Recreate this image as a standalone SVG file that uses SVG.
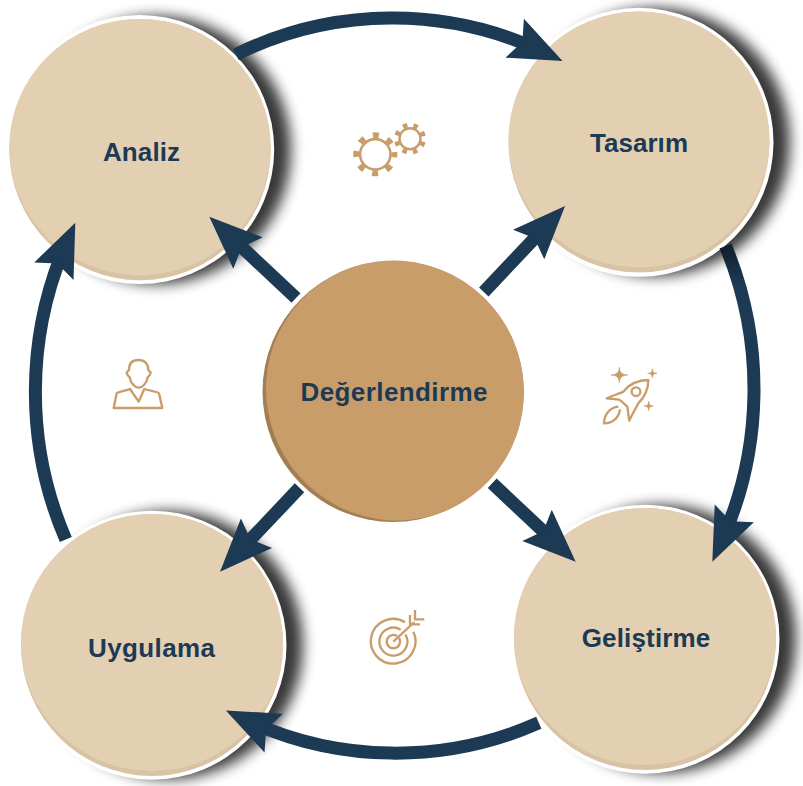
<svg xmlns="http://www.w3.org/2000/svg" width="803" height="786" viewBox="0 0 803 786">
<style>
.shadow{fill:#000;opacity:.78;filter:url(#blur)}
.ring{fill:#fff}
.rim{fill:#d9c3a5}
.face{fill:#e3cfb2}
text{font-family:"Liberation Sans",Arial,sans-serif;font-weight:700;font-size:26px;fill:#1c3a54;text-anchor:middle}
.link{fill:none;stroke:#1c3a54;stroke-width:13;marker-end:url(#head)}
.ico{fill:none;stroke:#c99d6a;stroke-width:7;stroke-linejoin:round}
.star{fill:#c99d6a;stroke:#c99d6a;stroke-width:2}
</style>
<defs>
<filter id="blur" x="-20%" y="-20%" width="140%" height="140%"><feGaussianBlur stdDeviation="7"/></filter>
<marker id="head" markerUnits="userSpaceOnUse" viewBox="-40 -25 65 50" refX="0" refY="0" markerWidth="65" markerHeight="50" orient="auto"><path d="M-33,-21.5L-24.5,0L-33,21.5L20,0Z" fill="#1c3a54"/></marker>
<linearGradient id="dark" gradientUnits="userSpaceOnUse" x1="726" y1="246" x2="738" y2="285"><stop offset="0" stop-color="#11202d"/><stop offset="1" stop-color="#1c3a54"/></linearGradient>
</defs>
<rect width="803" height="786" fill="#fff"/>
<g id="node-analiz">
<circle class="shadow" cx="157" cy="150" r="134"/>
<circle class="ring" cx="139.7" cy="149.5" r="134.5"/>
<circle class="rim" cx="140" cy="149.6" r="130.7"/>
<ellipse class="face" cx="140" cy="147.1" rx="130.7" ry="128.2"/>
<text x="141.5" y="161" textLength="77">Analiz</text>
</g>
<g id="node-tasarim">
<circle class="shadow" cx="656" cy="142" r="134"/>
<circle class="ring" cx="639" cy="142.3" r="134.5"/>
<circle class="rim" cx="639" cy="142" r="130.5"/>
<ellipse class="face" cx="639" cy="139.5" rx="130.5" ry="128"/>
<text x="639" y="152" textLength="98">Tasarım</text>
</g>
<g id="node-gelistirme">
<circle class="shadow" cx="662" cy="639" r="134"/>
<circle class="ring" cx="645" cy="639.2" r="134.5"/>
<circle class="rim" cx="645" cy="639" r="131"/>
<ellipse class="face" cx="645" cy="636.5" rx="131" ry="128.5"/>
<text x="646" y="647" textLength="128.5">Geliştirme</text>
</g>
<g id="node-uygulama">
<circle class="shadow" cx="169" cy="645" r="134"/>
<circle class="ring" cx="152" cy="645.2" r="134.5"/>
<circle class="rim" cx="152" cy="645" r="131"/>
<ellipse class="face" cx="152" cy="642.5" rx="131" ry="128.5"/>
<text x="151.5" y="657" textLength="127">Uygulama</text>
</g>
<g id="node-degerlendirme">
<circle cx="393" cy="391.5" r="130.5" fill="#a27e54"/>
<ellipse cx="395" cy="390.5" rx="128.5" ry="130.5" transform="rotate(-30 395 390.5)" fill="#c99d6a"/>
<text x="394" y="401" textLength="187">Değerlendirme</text>
</g>
<g id="connectors">
<path class="link" d="M236,54.5A360,367 0 0 1 544.5,52.4"/>
<path class="link" style="stroke:url(#dark)" d="M725.5,246A360,367 0 0 1 720.6,543.5"/>
<path class="link" d="M538.8,722.8A360,367 0 0 1 243.9,719"/>
<path class="link" d="M65.8,539.5A360,367 0 0 1 67.2,241"/>
<path class="link" d="M296,298L223.9,230.4"/>
<path class="link" d="M483.8,292L551.3,220.5"/>
<path class="link" d="M492.2,483.3L561.1,548"/>
<path class="link" d="M299.5,487.8L233.8,557.2"/>
</g>
<g id="icon-gears" fill="none" stroke="#c99d6a">
<circle cx="375.3" cy="154.3" r="15.2" stroke-width="2.6"/>
<circle cx="375.3" cy="154.3" r="19" stroke-width="6" stroke-dasharray="6 8.92" stroke-dashoffset="3"/>
<circle cx="410" cy="138.7" r="10.5" stroke-width="2.4"/>
<circle cx="410" cy="138.7" r="13.6" stroke-width="4.6" stroke-dasharray="4.5 6.18" stroke-dashoffset="-3.09"/>
</g>
<g id="icon-person" transform="translate(90 340) scale(.3333)">
<path class="ico" d="M145,60C125,60 117,72 117,90L110,97C110,105 115,108 119,112C122,130 135,143 146,143C157,143 170,130 173,112C177,108 182,105 182,97L175,90C175,72 165,60 145,60Z"/>
<path class="ico" d="M71,204L217,204L207,160C205,155 180,152 163,147L146,185L120,147C110,152 85,155 80,160Z"/>
</g>
<g id="icon-rocket" transform="translate(590 350) scale(.3333)">
<path class="ico" d="M175,90C150,90 120,100 100,125C85,132 65,138 50,145C65,147 80,147 90,150L112,170C115,185 115,200 118,212C125,195 135,180 145,160C165,140 175,115 175,90Z"/>
<circle class="ico" cx="138" cy="125" r="13"/>
<path class="ico" d="M85,170C60,172 42,195 42,220C70,220 88,200 90,178"/>
<path class="star" d="M88,52Q88,75 113,75Q88,75 88,98Q88,75 63,75Q88,75 88,52Z"/>
<path class="star" d="M187,56Q187,70 201,70Q187,70 187,84Q187,70 173,70Q187,70 187,56Z"/>
<path class="star" d="M176,154Q176,168 190,168Q176,168 176,182Q176,168 162,168Q176,168 176,154Z"/>
</g>
<g id="icon-target" transform="translate(355 600) scale(.3333)">
<path class="ico" d="M150,67A67,67 0 1 0 175,95"/>
<path class="ico" d="M137,89A42,42 0 1 0 151,103"/>
<path class="ico" d="M126,108A20,20 0 1 0 132,114"/>
<path class="ico" d="M115,125L178,66"/>
<path class="ico" d="M180,30L180,58L208,58M165,45L165,73L195,73"/>
</g>
</svg>
